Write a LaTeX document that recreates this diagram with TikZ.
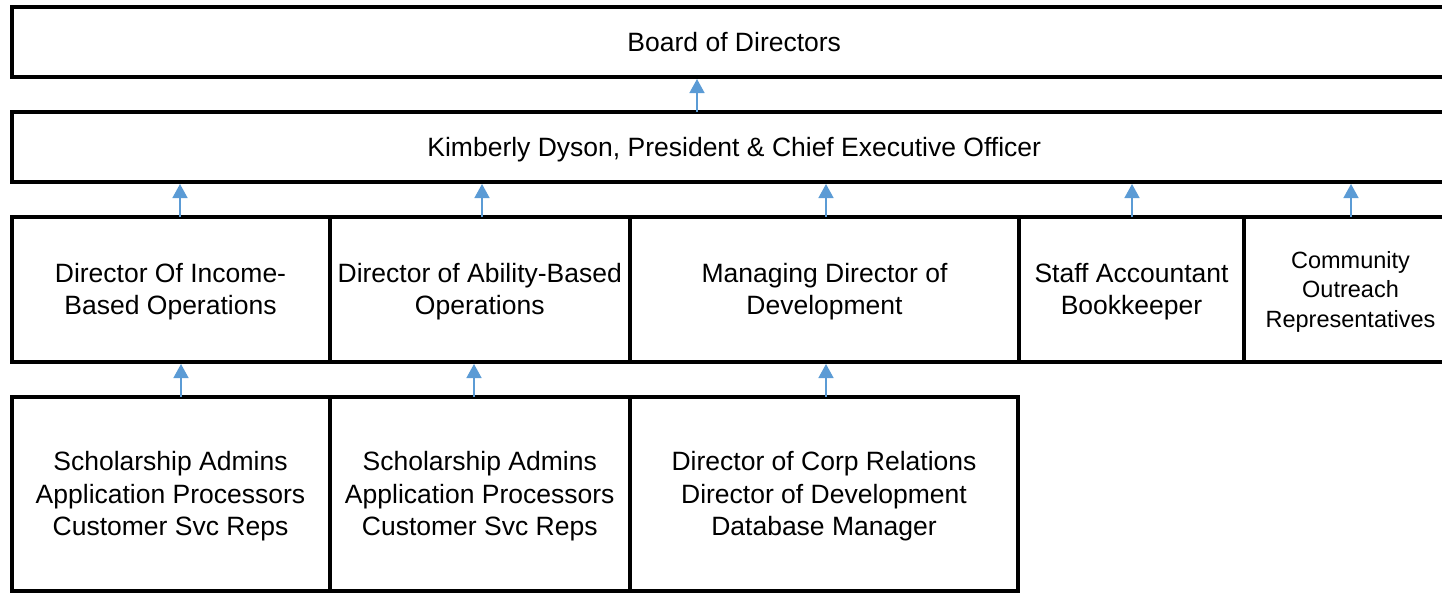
\documentclass[tikz,border=0pt]{standalone}
\usepackage{fontspec}
\setmainfont{Liberation Sans}
\usetikzlibrary{arrows.meta}
\definecolor{arrblue}{RGB}{91,155,213}
\newcommand\boxtext[1]{\raisebox{-2.5pt}[\height][\depth]{\begin{tabular}{@{}c@{}}#1\end{tabular}}}
\begin{document}
\begin{tikzpicture}[x=1pt,y=-1pt,
  box/.style={draw=black,line width=4pt,rectangle,inner sep=0pt,outer sep=0pt,
    anchor=north west,align=center,font=\fontsize{26.5}{32.5}\selectfont},
  smallbox/.style={box,font=\fontsize{23.5}{29.5}\selectfont},
  arr/.style={draw=arrblue,line width=1.5pt,-{Triangle[width=15pt,length=14pt]},shorten >=2pt}]
\path[use as bounding box, clip] (0,0) rectangle (1442,592);
% boxes
\node[box,minimum width=1445.5pt,minimum height=70pt] (board) at (11.5,7) {Board of Directors};
\node[box,minimum width=1445.5pt,minimum height=70pt] (pres) at (11.5,112) {\boxtext{Kimberly Dyson, President \& Chief Executive Officer}};
\node[box,minimum width=318pt,minimum height=145pt] (a) at (11.5,217) {\boxtext{Director Of Income-\\Based Operations}};
\node[box,minimum width=300.5pt,minimum height=145pt] (b) at (329.5,217) {\boxtext{Director of Ability-Based\\Operations}};
\node[box,minimum width=389pt,minimum height=145pt] (c) at (630,217) {\boxtext{Managing Director of\\Development}};
\node[box,minimum width=225pt,minimum height=145pt] (d) at (1019,217) {\boxtext{Staff Accountant\\Bookkeeper}};
\node[smallbox,minimum width=213pt,minimum height=145pt] (e) at (1244,217) {\boxtext{Community\\Outreach\\Representatives}};
\node[box,minimum width=318pt,minimum height=194pt] (a3) at (11.5,397) {\boxtext{Scholarship Admins\\Application Processors\\Customer Svc Reps}};
\node[box,minimum width=300.5pt,minimum height=194pt] (b3) at (329.5,397) {\boxtext{Scholarship Admins\\Application Processors\\Customer Svc Reps}};
\node[box,minimum width=388pt,minimum height=194pt] (c3) at (630,397) {\boxtext{Director of Corp Relations\\Director of Development\\Database Manager}};
% arrow x positions
\coordinate (x0) at (697,0);
\coordinate (xa) at (180,0);
\coordinate (xb) at (482,0);
\coordinate (xc) at (826,0);
\coordinate (xd) at (1132,0);
\coordinate (xe) at (1351,0);
\coordinate (xa3) at (181,0);
\coordinate (xb3) at (474,0);
\coordinate (xc3) at (826,0);
% arrows
\draw[arr] (pres.north -| x0) -- (board.south -| x0);
\draw[arr] (a.north -| xa) -- (pres.south -| xa);
\draw[arr] (b.north -| xb) -- (pres.south -| xb);
\draw[arr] (c.north -| xc) -- (pres.south -| xc);
\draw[arr] (d.north -| xd) -- (pres.south -| xd);
\draw[arr] (e.north -| xe) -- (pres.south -| xe);
\draw[arr] (a3.north -| xa3) -- (a.south -| xa3);
\draw[arr] (b3.north -| xb3) -- (b.south -| xb3);
\draw[arr] (c3.north -| xc3) -- (c.south -| xc3);
\end{tikzpicture}
\end{document}
